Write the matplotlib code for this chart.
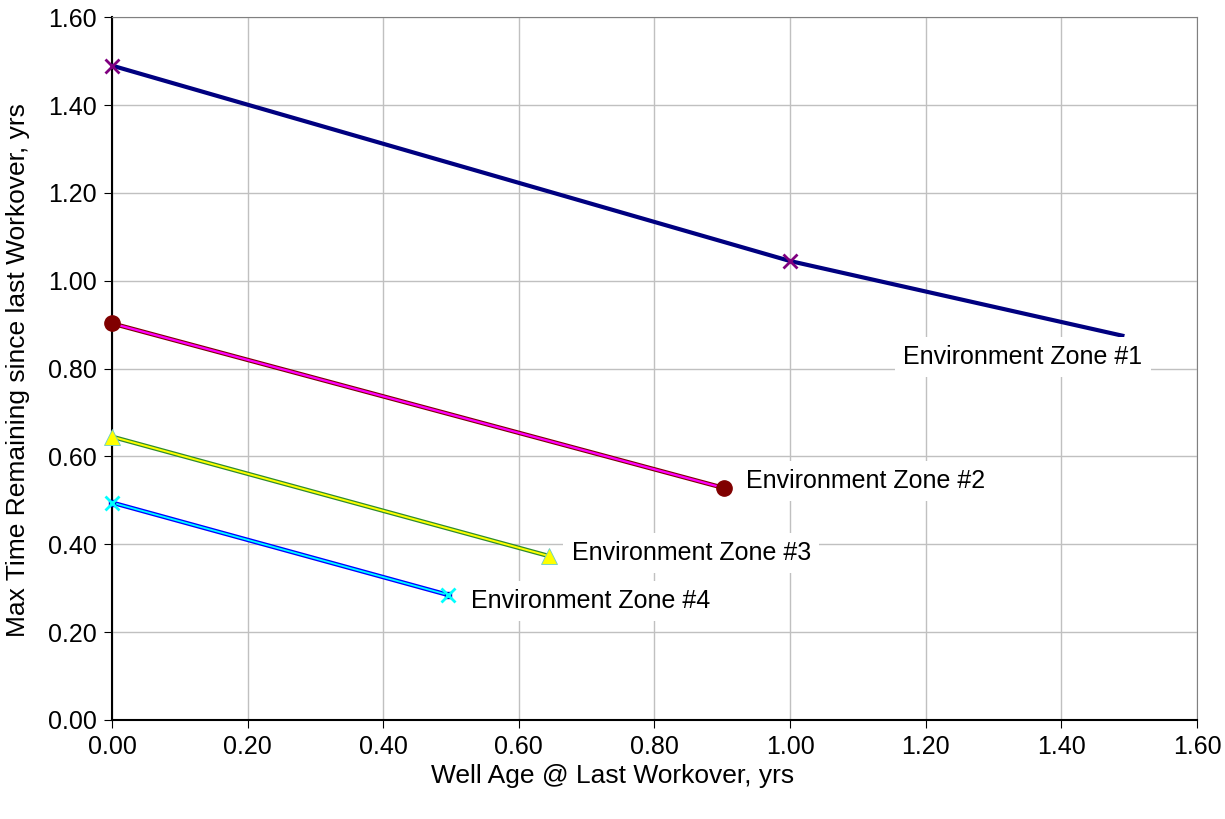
import matplotlib.pyplot as plt

plt.rcParams['font.family'] = ['Liberation Sans', 'DejaVu Sans']

# ---- Datos de las curvas ----
zona1_x = [0.0, 1.0, 1.49]
zona1_y = [1.49, 1.045, 0.875]
zona2_x = [0.0, 0.903]
zona2_y = [0.903, 0.528]
zona3_x = [0.0, 0.645]
zona3_y = [0.645, 0.373]
zona4_x = [0.0, 0.495]
zona4_y = [0.495, 0.285]

etiquetas = ["Environment Zone #1", "Environment Zone #2",
             "Environment Zone #3", "Environment Zone #4"]
etiq_x = [1.167, 0.935, 0.678, 0.529]
etiq_y = [0.826, 0.544, 0.380, 0.271]

ticks = [0.0, 0.2, 0.4, 0.6, 0.8, 1.0, 1.2, 1.4, 1.6]

fig = plt.figure(figsize=(12.25, 8.19), dpi=100)
ax = fig.add_axes([0.0914, 0.1209, 0.8857, 0.8580])

# Zona 1: linea azul marino, marcadores x morados
ax.plot(zona1_x, zona1_y, color='#000080', lw=3, zorder=3)
ax.plot(zona1_x[:2], zona1_y[:2], ls='none', marker='x', ms=10, mew=2,
        color='#800080', zorder=4, clip_on=False)

# Zona 2: magenta con borde granate, circulos granate
ax.plot(zona2_x, zona2_y, color='#800000', lw=3.2, zorder=3)
ax.plot(zona2_x, zona2_y, color='#FF00FF', lw=1.6, zorder=3)
ax.plot(zona2_x, zona2_y, ls='none', marker='o', ms=11, color='#800000',
        zorder=4, clip_on=False)

# Zona 3: amarillo con borde verde, triangulos amarillos
ax.plot(zona3_x, zona3_y, color='#2E8B2E', lw=3.2, zorder=3)
ax.plot(zona3_x, zona3_y, color='#FFFF00', lw=1.4, zorder=3)
ax.plot(zona3_x, zona3_y, ls='none', marker='^', ms=11, color='#FFFF00',
        mec='#66CCCC', mew=0.6, zorder=4, clip_on=False)

# Zona 4: azul con centro cian, x cian
ax.plot(zona4_x, zona4_y, color='#0000FF', lw=3.2, zorder=3)
ax.plot(zona4_x, zona4_y, color='#00FFFF', lw=1.3, zorder=3)
ax.plot(zona4_x, zona4_y, ls='none', marker='s', ms=4, color='#0000CC',
        zorder=4, clip_on=False)
ax.plot(zona4_x, zona4_y, ls='none', marker='x', ms=10, mew=2, color='#00FFFF',
        zorder=5, clip_on=False)

for txt, x, y in zip(etiquetas, etiq_x, etiq_y):
    ax.text(x, y, txt, fontsize=18, ha='left', va='center', zorder=6,
            bbox=dict(facecolor='white', edgecolor='none', pad=6))

ax.set_xlim(0, 1.6)
ax.set_ylim(0, 1.6)
ax.set_xticks(ticks)
ax.set_yticks(ticks)
ax.set_xticklabels(['%.2f' % t for t in ticks])
ax.set_yticklabels(['%.2f' % t for t in ticks])
ax.tick_params(labelsize=18, direction='out', length=6, color='black', pad=5)
ax.grid(True, color='#c0c0c0', lw=1)
ax.set_axisbelow(True)

for lado in ['top', 'right']:
    ax.spines[lado].set_color('#808080')
ax.spines['left'].set_color('black')
ax.spines['bottom'].set_color('black')
ax.spines['left'].set_linewidth(1.5)
ax.spines['bottom'].set_linewidth(1.5)

# Titulos de ejes (centrados en el area del grafico, como Excel)
fig.text(0.5, 0.052, 'Well Age @ Last Workover, yrs', fontsize=19,
         ha='center', va='center')
fig.text(0.0145, 0.548, 'Max Time Remaining since last Workover, yrs',
         fontsize=19, rotation=90, ha='center', va='center')

fig.savefig('out.png', dpi=100)
